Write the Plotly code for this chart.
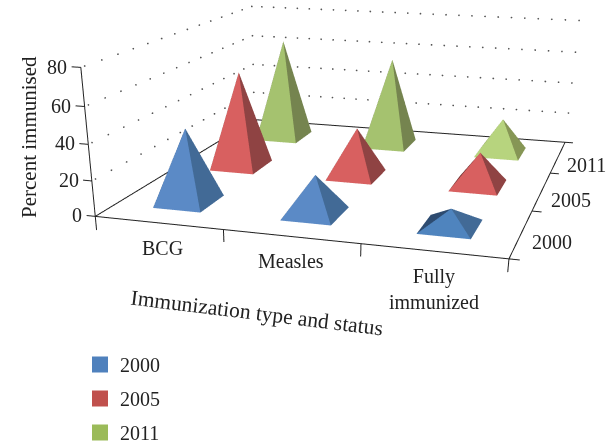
import numpy as np
import plotly.graph_objects as go

categories = ["BCG", "Measles", "Fully<br>immunized"]
series_names = ["2000", "2005", "2011"]
values_2000 = [42, 22, 10]
values_2005 = [58, 29, 20]
values_2011 = [64, 56, 22]
z_ticks = [0, 20, 40, 60, 80]
front_colors = [["#5B8AC6","#5B8AC6","#4F84BE"], ["#D86060","#D86060","#D86060"], ["#A5C26F","#A5C26F","#B7D47E"]]
side_colors = [["#426A96","#426A96","#426A96"], ["#8F4343","#8F4343","#8F4343"], ["#75844F","#75844F","#869655"]]
left_colors = ["#2D4B70", "#6E3232", "#5A663C"]
legend_colors = ["#4F81BD", "#C0504D", "#9BBB59"]

W = 613
H = 900  # taller than the window: gives the shallow perspective of the original; page is clipped to 444
XR = [-0.2, 3.2]; YR = [-0.2, 3.2]; ZR = [-8, 88]
aspect = dict(x=0.9793, y=1.0850, z=0.3580)
eye = dict(x=0.6725, y=-2.4571, z=0.5325)
center = dict(x=0.0499, y=-0.5328, z=-0.5973)

def py(y): return 1-y/H
fig = go.Figure()
for j,(name,vals) in enumerate(zip(series_names,[values_2000,values_2005,values_2011])):
    xs=[];ys=[];zs=[];I=[];Jn=[];Kn=[];fc=[]
    for i,v in enumerate(vals):
        n=len(xs); cx=i+.5; cy=j+.5; hx=.19; hy=.21
        xs+=[cx-hx,cx+hx,cx+hx,cx-hx,cx]; ys+=[cy-hy,cy-hy,cy+hy,cy+hy,cy]; zs+=[0,0,0,0,v]
        faces=[(0,1,4,front_colors[j][i]),(1,2,4,side_colors[j][i]),(2,3,4,side_colors[j][i]),(3,0,4,left_colors[j]),(0,1,2,side_colors[j][i]),(0,2,3,side_colors[j][i])]
        for a,b_,c_,col in faces:
            I.append(n+a);Jn.append(n+b_);Kn.append(n+c_);fc.append(col)
    fig.add_trace(go.Mesh3d(x=xs,y=ys,z=zs,i=I,j=Jn,k=Kn,facecolor=fc,flatshading=True,showlegend=False,
        lighting=dict(ambient=1,diffuse=0,specular=0,roughness=1,fresnel=0),hoverinfo="skip"))
    fig.add_trace(go.Scatter3d(x=[None],y=[None],z=[None],mode="markers",name=name,legendgroup=name,
        marker=dict(symbol="square",size=16,color=legend_colors[j])))

lx=[0,3,3,0,0,None,0,0];ly=[0,0,3,3,0,None,0,0];lz=[0,0,0,0,0,None,-8,80]
for t in z_ticks:
    lx+=[None,-0.07,0];ly+=[None,0,0];lz+=[None,t,t]
for t in range(4):
    lx+=[None,t,t];ly+=[None,0,0];lz+=[None,0,-7]
for t in range(4):
    lx+=[None,3,3.07];ly+=[None,t,t];lz+=[None,0,0]
fig.add_trace(go.Scatter3d(x=lx,y=ly,z=lz,mode="lines",line=dict(color="#222",width=2),showlegend=False,hoverinfo="skip"))
gx=[];gy=[];gz=[]
for t in z_ticks[1:]:
    yy=np.linspace(0.05,3,14); gx+=[0]*14; gy+=list(yy); gz+=[t]*14
    xx=np.linspace(0.1,3,26); gx+=list(xx); gy+=[3]*26; gz+=[t]*26
fig.add_trace(go.Scatter3d(x=gx,y=gy,z=gz,mode="markers",marker=dict(size=1,color="#555"),showlegend=False,hoverinfo="skip"))

sf=dict(family="Liberation Serif",size=20,color="#222")
ann3=[]
for v in z_ticks:
    ann3.append(dict(x=-0.09,y=0,z=v,text=str(v),showarrow=False,xanchor="right",yanchor="middle",font=sf))
cat_x=[.53,1.5,2.5]
for i,c_ in enumerate(categories):
    ann3.append(dict(x=cat_x[i],y=0,z=0,text=c_,showarrow=False,xanchor="center",yanchor="top",yshift=-12,font=sf))
for j,n in enumerate(series_names):
    ann3.append(dict(x=3.06,y=j+.5,z=0,text=n,showarrow=False,xanchor="left",yanchor="middle",yshift=-8,font=sf))

fig.update_layout(width=W,height=H,margin=dict(l=0,r=0,t=0,b=0),paper_bgcolor="white",font=sf,
  legend=dict(x=80/W,y=py(345),xanchor="left",yanchor="top",tracegroupgap=5,font=sf,bgcolor="rgba(0,0,0,0)",itemwidth=30),
  scene=dict(domain=dict(x=[0,1],y=[0,1]),aspectmode="manual",aspectratio=aspect,
   xaxis=dict(visible=False,range=XR),yaxis=dict(visible=False,range=YR),zaxis=dict(visible=False,range=ZR),
   camera=dict(eye=eye,center=center,up=dict(x=0,y=0,z=1)),
   annotations=ann3),
  annotations=[
    dict(x=257/W,y=py(313),xref="paper",yref="paper",xanchor="center",yanchor="middle",text="Immunization type and status",textangle=7,showarrow=False,font=dict(family="Liberation Serif",size=21.5,color="#222")),
    dict(x=29/W,y=py(137),xref="paper",yref="paper",xanchor="center",yanchor="middle",text="Percent immunised",textangle=-90,showarrow=False,font=dict(family="Liberation Serif",size=21,color="#222")),
  ])
post="document.documentElement.style.overflow='hidden';document.body.style.margin='0';document.body.style.height='444px';document.body.style.overflow='hidden';"
fig.write_html("out.html",post_script=post,config=dict(displayModeBar=False))
